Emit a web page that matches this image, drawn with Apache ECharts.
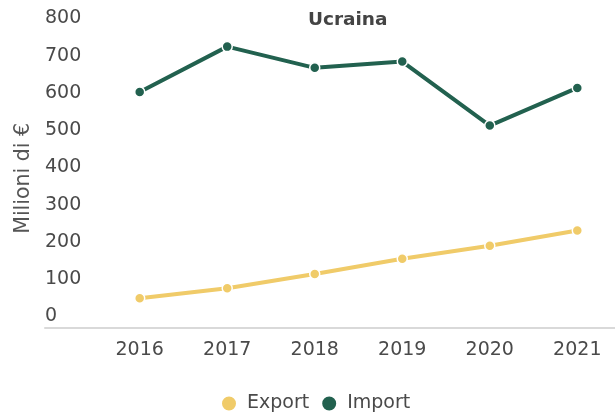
<!DOCTYPE html>
<html>
<head>
<meta charset="utf-8">
<script src="https://cdn.jsdelivr.net/npm/echarts@6/dist/echarts.min.js"></script>
<style>
  html, body { margin: 0; padding: 0; background: #ffffff; }
  #chart { width: 615px; height: 418px; }
</style>
</head>
<body>
<div id="chart"></div>
<script>
// Trade between Italy and Ukraine, million euro
const years = ['2016', '2017', '2018', '2019', '2020', '2021'];
const exportValues = [78, 105, 143, 184, 219, 260];
const importValues = [632, 754, 697, 714, 542, 643];
const yTicks = [0, 100, 200, 300, 400, 500, 600, 700, 800];

const FONT = 'DejaVu Sans';
const TEXT = '#4a4a4a';
const COL_EXPORT = '#F0CB69';
const COL_IMPORT = '#22614F';

const chart = echarts.init(document.getElementById('chart'), null, { renderer: 'canvas' });

const gridTop = 29.5, gridBottom = 90.7;

chart.setOption({
  animation: false,
  backgroundColor: '#ffffff',
  title: {
    text: 'Ucraina',
    left: 342.7,
    top: 6,
    textAlign: 'center',
    textStyle: { fontFamily: FONT, fontSize: 18.5, fontWeight: 'bold', color: '#444444' }
  },
  legend: {
    data: ['Export', 'Import'],
    left: 215,
    top: 389,
    icon: 'circle',
    itemWidth: 16,
    itemHeight: 16,
    itemGap: 11,
    textStyle: { fontFamily: FONT, fontSize: 19, color: TEXT, padding: [0, 0, 0, 5] }
  },
  grid: [
    { left: 139.7, right: 37.7, top: gridTop, bottom: gridBottom },
    { left: 45, right: 0, top: gridTop, bottom: gridBottom }
  ],
  xAxis: [
    {
      type: 'category',
      gridIndex: 0,
      data: years,
      boundaryGap: false,
      axisLine: { show: false },
      axisTick: { show: false },
      axisLabel: { fontFamily: FONT, fontSize: 19, color: TEXT, margin: 13 }
    },
    {
      // full-width baseline under the plot
      type: 'value',
      gridIndex: 1,
      min: 0,
      max: 1,
      axisLine: { show: true, lineStyle: { color: '#d9d9d9', width: 2 } },
      axisTick: { show: false },
      axisLabel: { show: false },
      splitLine: { show: false }
    }
  ],
  yAxis: [
    {
      type: 'value',
      gridIndex: 0,
      min: yTicks[0],
      max: yTicks[yTicks.length - 1],
      interval: yTicks[1] - yTicks[0],
      name: 'Milioni di €',
      nameLocation: 'middle',
      nameGap: 100,
      nameTextStyle: { fontFamily: FONT, fontSize: 20.5, color: '#555555' },
      axisLine: { show: false },
      axisTick: { show: false },
      splitLine: { show: false },
      axisLabel: {
        fontFamily: FONT,
        fontSize: 19,
        color: TEXT,
        align: 'left',
        margin: 94.7,
        verticalAlign: 'bottom',
        lineHeight: 20,
        padding: [0, 0, 1, 0]
      }
    },
    {
      type: 'value',
      gridIndex: 1,
      min: 0,
      max: 1,
      show: false
    }
  ],
  series: [
    {
      name: 'Export',
      type: 'line',
      xAxisIndex: 0,
      yAxisIndex: 0,
      data: exportValues,
      color: COL_EXPORT,
      symbol: 'circle',
      symbolSize: 10,
      lineStyle: { width: 4, color: COL_EXPORT },
      itemStyle: { color: COL_EXPORT, borderColor: '#ffffff', borderWidth: 1.5 }
    },
    {
      name: 'Import',
      type: 'line',
      xAxisIndex: 0,
      yAxisIndex: 0,
      data: importValues,
      color: COL_IMPORT,
      symbol: 'circle',
      symbolSize: 10,
      lineStyle: { width: 4, color: COL_IMPORT },
      itemStyle: { color: COL_IMPORT, borderColor: '#ffffff', borderWidth: 1.5 }
    }
  ]
});
</script>
</body>
</html>
